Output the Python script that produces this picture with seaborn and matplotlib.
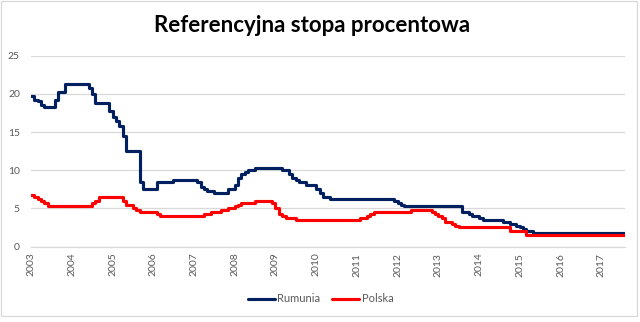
import matplotlib
matplotlib.use("Agg")
import matplotlib.pyplot as plt
import matplotlib.dates as mdates
from matplotlib.patches import Rectangle
import pandas as pd
import seaborn as sns

# ---- data (monthly, Jan 2003 .. Aug 2017) ----
start_month = "2003-01-01"
series_names = ["Rumunia", "Polska"]
series_colors = ["#002060", "#ff0000"]
title_text = "Referencyjna stopa procentowa"
y_ticks = [0, 5, 10, 15, 20, 25]
year_ticks = list(range(2003, 2018))

romania = [
    19.75, 19.25, 19.0, 18.5, 18.25, 18.25, 18.25, 19.25, 20.25, 20.25, 21.25, 21.25,  # 2003
    21.25, 21.25, 21.25, 21.25, 21.25, 20.75, 20.0, 18.75, 18.75, 18.75, 18.75, 17.75,  # 2004
    17.0, 16.5, 15.75, 14.5, 12.5, 12.5, 12.5, 12.5, 8.5, 7.5, 7.5, 7.5,              # 2005
    7.5, 8.5, 8.5, 8.5, 8.5, 8.5, 8.75, 8.75, 8.75, 8.75, 8.75, 8.75,                # 2006
    8.75, 8.5, 7.75, 7.5, 7.25, 7.25, 7.0, 7.0, 7.0, 7.0, 7.5, 7.5,                  # 2007
    8.0, 9.0, 9.5, 9.75, 10.0, 10.0, 10.25, 10.25, 10.25, 10.25, 10.25, 10.25,       # 2008
    10.25, 10.25, 10.0, 10.0, 9.5, 9.0, 8.75, 8.5, 8.5, 8.0, 8.0, 8.0,               # 2009
    7.5, 7.0, 6.5, 6.5, 6.25, 6.25, 6.25, 6.25, 6.25, 6.25, 6.25, 6.25,              # 2010
    6.25, 6.25, 6.25, 6.25, 6.25, 6.25, 6.25, 6.25, 6.25, 6.25, 6.25, 6.0,           # 2011
    5.75, 5.5, 5.25, 5.25, 5.25, 5.25, 5.25, 5.25, 5.25, 5.25, 5.25, 5.25,           # 2012
    5.25, 5.25, 5.25, 5.25, 5.25, 5.25, 5.25, 4.5, 4.5, 4.25, 4.0, 4.0,              # 2013
    3.75, 3.5, 3.5, 3.5, 3.5, 3.5, 3.5, 3.25, 3.25, 3.0, 3.0, 2.75,                  # 2014
    2.5, 2.25, 2.0, 2.0, 1.75, 1.75, 1.75, 1.75, 1.75, 1.75, 1.75, 1.75,             # 2015
    1.75, 1.75, 1.75, 1.75, 1.75, 1.75, 1.75, 1.75, 1.75, 1.75, 1.75, 1.75,          # 2016
    1.75, 1.75, 1.75, 1.75, 1.75, 1.75, 1.75, 1.75,                                  # 2017
]

polska = [
    6.75, 6.5, 6.25, 6.0, 5.75, 5.25, 5.25, 5.25, 5.25, 5.25, 5.25, 5.25,            # 2003
    5.25, 5.25, 5.25, 5.25, 5.25, 5.25, 5.75, 6.0, 6.5, 6.5, 6.5, 6.5,               # 2004
    6.5, 6.5, 6.5, 6.0, 5.5, 5.5, 5.0, 4.75, 4.5, 4.5, 4.5, 4.5,                     # 2005
    4.5, 4.25, 4.0, 4.0, 4.0, 4.0, 4.0, 4.0, 4.0, 4.0, 4.0, 4.0,                     # 2006
    4.0, 4.0, 4.0, 4.25, 4.25, 4.5, 4.5, 4.5, 4.75, 4.75, 5.0, 5.0,                  # 2007
    5.25, 5.5, 5.75, 5.75, 5.75, 5.75, 6.0, 6.0, 6.0, 6.0, 6.0, 5.75,                # 2008
    5.0, 4.25, 4.0, 3.75, 3.75, 3.75, 3.5, 3.5, 3.5, 3.5, 3.5, 3.5,                  # 2009
    3.5, 3.5, 3.5, 3.5, 3.5, 3.5, 3.5, 3.5, 3.5, 3.5, 3.5, 3.5,                      # 2010
    3.5, 3.75, 3.75, 4.0, 4.25, 4.5, 4.5, 4.5, 4.5, 4.5, 4.5, 4.5,                   # 2011
    4.5, 4.5, 4.5, 4.5, 4.75, 4.75, 4.75, 4.75, 4.75, 4.75, 4.5, 4.25,               # 2012
    4.0, 3.75, 3.25, 3.25, 3.0, 2.75, 2.5, 2.5, 2.5, 2.5, 2.5, 2.5,                  # 2013
    2.5, 2.5, 2.5, 2.5, 2.5, 2.5, 2.5, 2.5, 2.5, 2.0, 2.0, 2.0,                      # 2014
    2.0, 2.0, 1.5, 1.5, 1.5, 1.5, 1.5, 1.5, 1.5, 1.5, 1.5, 1.5,                      # 2015
    1.5, 1.5, 1.5, 1.5, 1.5, 1.5, 1.5, 1.5, 1.5, 1.5, 1.5, 1.5,                      # 2016
    1.5, 1.5, 1.5, 1.5, 1.5, 1.5, 1.5, 1.5,                                          # 2017
]

dates = pd.date_range(start_month, periods=len(romania), freq="MS")
df = pd.concat([
    pd.DataFrame({"date": dates, "rate": romania, "series": series_names[0]}),
    pd.DataFrame({"date": dates, "rate": polska, "series": series_names[1]}),
], ignore_index=True)

# ---- style ----
sns.set_style("white")
plt.rcParams["font.family"] = ["Lato", "DejaVu Sans"]
GRID = "#d9d9d9"
TXT = "#595959"

fig = plt.figure(figsize=(6.4, 3.22), dpi=100)
fig.patch.set_facecolor("white")
fig.patches.append(Rectangle((1 / 640, 1 - 316 / 322), 636 / 640, 316 / 322 - 0.5 / 322,
                             transform=fig.transFigure, fill=False,
                             edgecolor=GRID, linewidth=0.9, zorder=0))

ax = fig.add_axes([31 / 640, 1 - 246.5 / 322, (625 - 31) / 640, (246.5 - 55.7) / 322])

sns.lineplot(data=df, x="date", y="rate", hue="series", hue_order=series_names,
             palette=dict(zip(series_names, series_colors)), linewidth=2.25,
             drawstyle="steps-post", ax=ax, legend=True)

ax.set_xlim(dates[0], dates[-1])
ax.set_ylim(0, 25)
ax.set_yticks(y_ticks)
ax.set_xticks([pd.Timestamp(f"{y}-01-01") for y in year_ticks])
ax.xaxis.set_major_formatter(mdates.DateFormatter("%Y"))
ax.grid(axis="y", color=GRID, linewidth=0.9)
ax.grid(axis="x", visible=False)
for s in ["left", "right", "top"]:
    ax.spines[s].set_visible(False)
ax.spines["bottom"].set_color(GRID)
ax.spines["bottom"].set_linewidth(0.9)
ax.tick_params(axis="y", length=0, pad=8, labelsize=7.5, labelcolor=TXT)
ax.tick_params(axis="x", length=0, pad=4.5, labelsize=7.5, labelcolor=TXT, labelrotation=90)
ax.set_xlabel("")
ax.set_ylabel("")

handles, labels = ax.get_legend_handles_labels()
ax.get_legend().remove()
fig.legend(handles, labels, loc="center", bbox_to_anchor=(0.5008, 1 - 299 / 322),
           ncol=2, frameon=False, fontsize=8, handlelength=2.43, handletextpad=0.2,
           columnspacing=1.1, labelcolor=TXT)

fig.text(312.5 / 640, 1 - 26 / 322, title_text, ha="center", va="center",
         fontsize=16, fontweight="bold", color="black")

fig.savefig("out.png", dpi=100)
